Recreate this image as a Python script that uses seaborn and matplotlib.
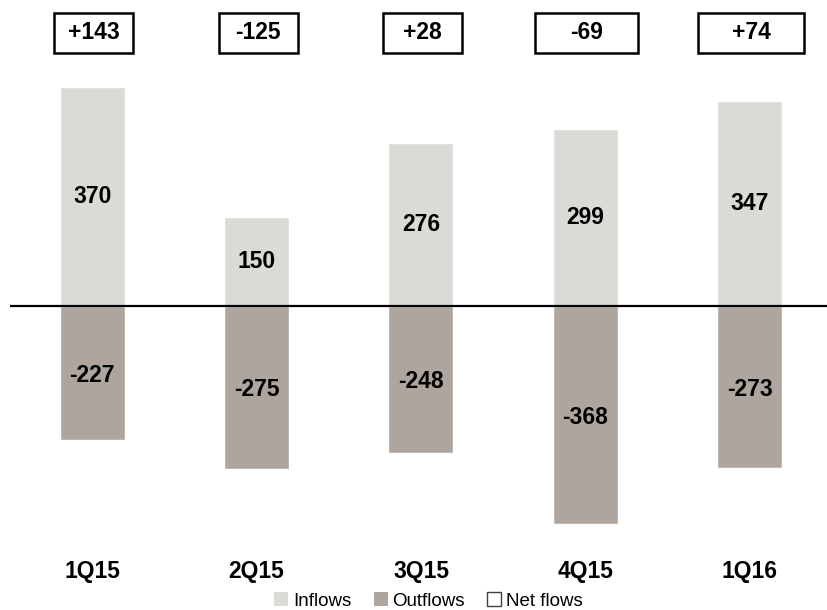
import numpy as np
import pandas as pd
import matplotlib.pyplot as plt
from matplotlib.patches import Rectangle, Patch
import seaborn as sns

quarters = ["1Q15", "2Q15", "3Q15", "4Q15", "1Q16"]
inflows = [370, 150, 276, 299, 347]
outflows = [-227, -275, -248, -368, -273]
net_flows = ["+143", "-125", "+28", "-69", "+74"]

inflow_color = "#DCDAD5"
outflow_color = "#ADA59E"
box_px = [79, 79, 79, 103, 106]

sns.set_style("white")
plt.rcParams["font.family"] = ["Liberation Sans", "DejaVu Sans"]
plt.rcParams["text.color"] = "black"

df = pd.DataFrame({"quarter": quarters, "inflows": inflows, "outflows": outflows})

fig = plt.figure(figsize=(8.27, 6.10), dpi=100)
ax = fig.add_axes([10 / 827, 0, 817 / 827, 1])

sns.barplot(data=df, x="quarter", y="inflows", color=inflow_color, width=0.395,
            saturation=1, ax=ax)
sns.barplot(data=df, x="quarter", y="outflows", color=outflow_color, width=0.395,
            saturation=1, ax=ax)

ax.set_xlim(-0.5, 4.47)
ax.set_ylim(-513.5, 517)
ax.axhline(0, color="black", lw=1.6, zorder=5)
ax.axis("off")

# pixels per data unit
sx = 817 / 4.97
sy = 610 / (517 + 513.5)

fs = 16.5
for i, q in enumerate(quarters):
    ax.text(i, inflows[i] / 2, str(inflows[i]), ha="center", va="center",
            fontsize=fs, fontweight="bold")
    ax.text(i, outflows[i] / 2 - 4, str(outflows[i]), ha="center", va="center",
            fontsize=fs, fontweight="bold")
    ax.text(i, -449, q, ha="center", va="center", fontsize=fs, fontweight="bold")
    w = box_px[i] / sx
    h = 40 / sy
    ax.add_patch(Rectangle((i + 0.01 - w / 2, 462 - h / 2), w, h, facecolor="white",
                           edgecolor="black", lw=1.8, clip_on=False))
    ax.text(i + 0.01, 462, net_flows[i], ha="center", va="center",
            fontsize=fs, fontweight="bold")

handles = [Patch(facecolor=inflow_color, edgecolor="none"),
           Patch(facecolor=outflow_color, edgecolor="none"),
           Patch(facecolor="white", edgecolor="#404040", lw=1)]
fig.legend(handles, ["Inflows", "Outflows", "Net flows"], loc="center",
           bbox_to_anchor=(0.518, 0.015), ncol=3, frameon=False, fontsize=13.5,
           handlelength=0.75, handleheight=0.75, handletextpad=0.25,
           columnspacing=1.2, borderaxespad=0)

fig.savefig("out.png", dpi=100)
